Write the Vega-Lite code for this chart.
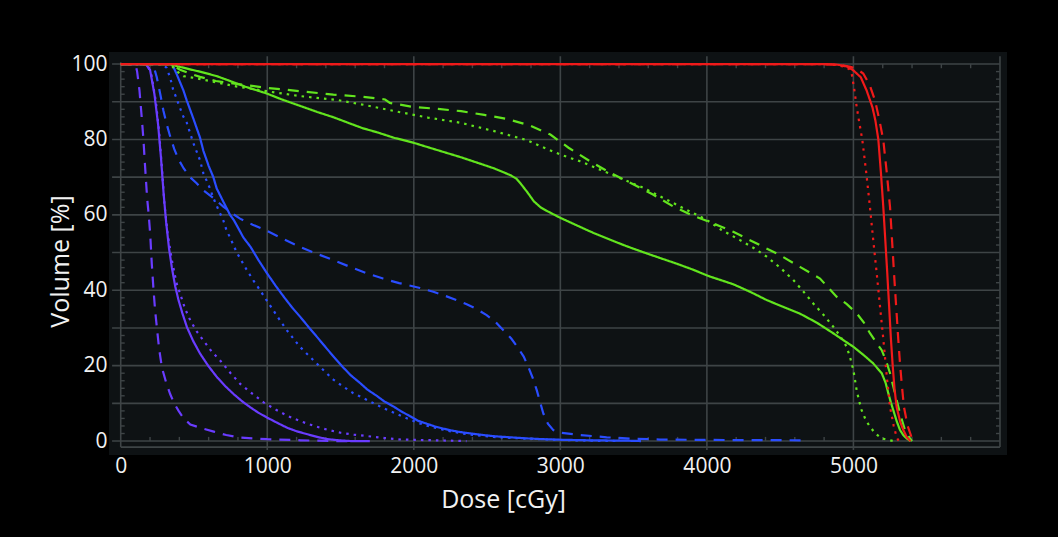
{
"$schema": "https://vega.github.io/schema/vega-lite/v6.json",
"width": 898, "height": 403,
"autosize": {"type": "none"},
"padding": {"left": 109, "top": 52, "right": 51, "bottom": 82},
"background": "#000000",
"config": {"view": {"fill": "#0e1214", "stroke": null}},
"resolve": {"axis": {"x": "independent", "y": "independent"}},
"datasets": {
"grid": [
{"x":-59,"x2":6000,"y":0,"y2":0},{"x":-59,"x2":6000,"y":10,"y2":10},{"x":-59,"x2":6000,"y":20,"y2":20},{"x":-59,"x2":6000,"y":30,"y2":30},{"x":-59,"x2":6000,"y":40,"y2":40},{"x":-59,"x2":6000,"y":50,"y2":50},{"x":-59,"x2":6000,"y":60,"y2":60},{"x":-59,"x2":6000,"y":70,"y2":70},{"x":-59,"x2":6000,"y":80,"y2":80},{"x":-59,"x2":6000,"y":90,"y2":90},{"x":-59,"x2":6000,"y":100,"y2":100},
{"x":1000,"x2":1000,"y":-2.4,"y2":102.1},{"x":2000,"x2":2000,"y":-2.4,"y2":102.1},{"x":3000,"x2":3000,"y":-2.4,"y2":102.1},{"x":4000,"x2":4000,"y":-2.4,"y2":102.1},{"x":5000,"x2":5000,"y":-2.4,"y2":102.1},
{"x":6000,"x2":6000,"y":-1.6,"y2":102.1},{"x":0,"x2":0,"y":-1.6,"y2":100.5},{"x":0,"x2":6000,"y":-1.6,"y2":-1.6}
],
"xt": [{"d":200},{"d":400},{"d":600},{"d":800},{"d":1200},{"d":1400},{"d":1600},{"d":1800},{"d":2200},{"d":2400},{"d":2600},{"d":2800},{"d":3200},{"d":3400},{"d":3600},{"d":3800},{"d":4200},{"d":4400},{"d":4600},{"d":4800},{"d":5200},{"d":5400},{"d":5600},{"d":5800}],
"yt": [{"v":2},{"v":4},{"v":6},{"v":8},{"v":12},{"v":14},{"v":16},{"v":18},{"v":22},{"v":24},{"v":26},{"v":28},{"v":32},{"v":34},{"v":36},{"v":38},{"v":42},{"v":44},{"v":46},{"v":48},{"v":52},{"v":54},{"v":56},{"v":58},{"v":62},{"v":64},{"v":66},{"v":68},{"v":72},{"v":74},{"v":76},{"v":78},{"v":82},{"v":84},{"v":86},{"v":88},{"v":92},{"v":94},{"v":96},{"v":98}],
"curves": [
{"g":"V","s":"solid","d":0,"v":100},{"g":"V","s":"solid","d":170,"v":100},{"g":"V","s":"solid","d":200,"v":98.5},{"g":"V","s":"solid","d":230,"v":92},{"g":"V","s":"solid","d":255,"v":84},{"g":"V","s":"solid","d":275,"v":75},{"g":"V","s":"solid","d":292,"v":66},{"g":"V","s":"solid","d":310,"v":58},{"g":"V","s":"solid","d":330,"v":51},{"g":"V","s":"solid","d":349,"v":46},{"g":"V","s":"solid","d":372,"v":41},{"g":"V","s":"solid","d":395,"v":37.3},{"g":"V","s":"solid","d":420,"v":34},{"g":"V","s":"solid","d":452,"v":30.2},{"g":"V","s":"solid","d":495,"v":26.5},{"g":"V","s":"solid","d":543,"v":23.1},{"g":"V","s":"solid","d":600,"v":19.8},{"g":"V","s":"solid","d":658,"v":16.9},{"g":"V","s":"solid","d":715,"v":14.5},{"g":"V","s":"solid","d":772,"v":12.4},{"g":"V","s":"solid","d":830,"v":10.5},{"g":"V","s":"solid","d":886,"v":8.9},{"g":"V","s":"solid","d":940,"v":7.5},{"g":"V","s":"solid","d":1000,"v":6.2},{"g":"V","s":"solid","d":1070,"v":4.8},{"g":"V","s":"solid","d":1137,"v":3.5},{"g":"V","s":"solid","d":1200,"v":2.6},{"g":"V","s":"solid","d":1274,"v":1.8},{"g":"V","s":"solid","d":1340,"v":1.1},{"g":"V","s":"solid","d":1411,"v":0.5},{"g":"V","s":"solid","d":1490,"v":0.2},{"g":"V","s":"solid","d":1571,"v":0},{"g":"V","s":"solid","d":1700,"v":0},
{"g":"V","s":"dashed","d":0,"v":100},{"g":"V","s":"dashed","d":100,"v":100},{"g":"V","s":"dashed","d":112,"v":98},{"g":"V","s":"dashed","d":128,"v":93},{"g":"V","s":"dashed","d":143,"v":86},{"g":"V","s":"dashed","d":155,"v":80},{"g":"V","s":"dashed","d":166,"v":73},{"g":"V","s":"dashed","d":180,"v":64.5},{"g":"V","s":"dashed","d":191,"v":60},{"g":"V","s":"dashed","d":201,"v":55},{"g":"V","s":"dashed","d":212,"v":47},{"g":"V","s":"dashed","d":224,"v":40},{"g":"V","s":"dashed","d":235,"v":34.5},{"g":"V","s":"dashed","d":247,"v":30},{"g":"V","s":"dashed","d":262,"v":24.5},{"g":"V","s":"dashed","d":281,"v":19.5},{"g":"V","s":"dashed","d":310,"v":15.5},{"g":"V","s":"dashed","d":338,"v":12.4},{"g":"V","s":"dashed","d":365,"v":10},{"g":"V","s":"dashed","d":395,"v":8},{"g":"V","s":"dashed","d":430,"v":6},{"g":"V","s":"dashed","d":475,"v":4.4},{"g":"V","s":"dashed","d":553,"v":3.4},{"g":"V","s":"dashed","d":635,"v":2.5},{"g":"V","s":"dashed","d":720,"v":1.6},{"g":"V","s":"dashed","d":817,"v":0.9},{"g":"V","s":"dashed","d":1000,"v":0.5},{"g":"V","s":"dashed","d":1228,"v":0.2},{"g":"V","s":"dashed","d":1457,"v":0},{"g":"V","s":"dashed","d":1550,"v":0},
{"g":"V","s":"dotted","d":0,"v":100},{"g":"V","s":"dotted","d":180,"v":100},{"g":"V","s":"dotted","d":210,"v":97},{"g":"V","s":"dotted","d":240,"v":90},{"g":"V","s":"dotted","d":262,"v":82},{"g":"V","s":"dotted","d":282,"v":72},{"g":"V","s":"dotted","d":298,"v":63},{"g":"V","s":"dotted","d":320,"v":55},{"g":"V","s":"dotted","d":349,"v":48},{"g":"V","s":"dotted","d":380,"v":42},{"g":"V","s":"dotted","d":406,"v":39},{"g":"V","s":"dotted","d":440,"v":35},{"g":"V","s":"dotted","d":475,"v":32},{"g":"V","s":"dotted","d":520,"v":29},{"g":"V","s":"dotted","d":566,"v":26.6},{"g":"V","s":"dotted","d":620,"v":23.8},{"g":"V","s":"dotted","d":680,"v":21.3},{"g":"V","s":"dotted","d":750,"v":18},{"g":"V","s":"dotted","d":817,"v":15.1},{"g":"V","s":"dotted","d":900,"v":12.5},{"g":"V","s":"dotted","d":977,"v":10.2},{"g":"V","s":"dotted","d":1060,"v":8.3},{"g":"V","s":"dotted","d":1137,"v":6.7},{"g":"V","s":"dotted","d":1230,"v":5.2},{"g":"V","s":"dotted","d":1320,"v":4},{"g":"V","s":"dotted","d":1410,"v":3},{"g":"V","s":"dotted","d":1502,"v":2.2},{"g":"V","s":"dotted","d":1590,"v":1.7},{"g":"V","s":"dotted","d":1685,"v":1.3},{"g":"V","s":"dotted","d":1800,"v":0.8},{"g":"V","s":"dotted","d":1913,"v":0.4},{"g":"V","s":"dotted","d":2142,"v":0.2},{"g":"V","s":"dotted","d":2360,"v":0},
{"g":"B","s":"solid","d":0,"v":100},{"g":"B","s":"solid","d":350,"v":100},{"g":"B","s":"solid","d":380,"v":97.5},{"g":"B","s":"solid","d":428,"v":93},{"g":"B","s":"solid","d":450,"v":90.4},{"g":"B","s":"solid","d":496,"v":85.5},{"g":"B","s":"solid","d":541,"v":80.5},{"g":"B","s":"solid","d":564,"v":77},{"g":"B","s":"solid","d":600,"v":73},{"g":"B","s":"solid","d":632,"v":70},{"g":"B","s":"solid","d":655,"v":67},{"g":"B","s":"solid","d":700,"v":63.5},{"g":"B","s":"solid","d":746,"v":60},{"g":"B","s":"solid","d":772,"v":58.6},{"g":"B","s":"solid","d":837,"v":54},{"g":"B","s":"solid","d":886,"v":51.5},{"g":"B","s":"solid","d":940,"v":48},{"g":"B","s":"solid","d":1000,"v":44.4},{"g":"B","s":"solid","d":1057,"v":41.2},{"g":"B","s":"solid","d":1114,"v":38.2},{"g":"B","s":"solid","d":1170,"v":35.4},{"g":"B","s":"solid","d":1228,"v":32.8},{"g":"B","s":"solid","d":1285,"v":30.1},{"g":"B","s":"solid","d":1342,"v":27.5},{"g":"B","s":"solid","d":1400,"v":24.8},{"g":"B","s":"solid","d":1457,"v":22.2},{"g":"B","s":"solid","d":1514,"v":19.7},{"g":"B","s":"solid","d":1571,"v":17.4},{"g":"B","s":"solid","d":1633,"v":15.4},{"g":"B","s":"solid","d":1685,"v":13.6},{"g":"B","s":"solid","d":1747,"v":12},{"g":"B","s":"solid","d":1799,"v":10.5},{"g":"B","s":"solid","d":1860,"v":9.2},{"g":"B","s":"solid","d":1913,"v":7.9},{"g":"B","s":"solid","d":1974,"v":6.6},{"g":"B","s":"solid","d":2027,"v":5.4},{"g":"B","s":"solid","d":2088,"v":4.6},{"g":"B","s":"solid","d":2142,"v":3.9},{"g":"B","s":"solid","d":2201,"v":3.3},{"g":"B","s":"solid","d":2258,"v":2.8},{"g":"B","s":"solid","d":2315,"v":2.4},{"g":"B","s":"solid","d":2430,"v":1.8},{"g":"B","s":"solid","d":2542,"v":1.3},{"g":"B","s":"solid","d":2656,"v":1},{"g":"B","s":"solid","d":2770,"v":0.7},{"g":"B","s":"solid","d":2884,"v":0.5},{"g":"B","s":"solid","d":2998,"v":0.35},{"g":"B","s":"solid","d":3200,"v":0.2},{"g":"B","s":"solid","d":3450,"v":0.1},{"g":"B","s":"solid","d":3550,"v":0},
{"g":"B","s":"dotted","d":0,"v":100},{"g":"B","s":"dotted","d":280,"v":100},{"g":"B","s":"dotted","d":314,"v":99},{"g":"B","s":"dotted","d":340,"v":96},{"g":"B","s":"dotted","d":359,"v":93},{"g":"B","s":"dotted","d":380,"v":91},{"g":"B","s":"dotted","d":400,"v":88.8},{"g":"B","s":"dotted","d":428,"v":86},{"g":"B","s":"dotted","d":450,"v":84.5},{"g":"B","s":"dotted","d":496,"v":79},{"g":"B","s":"dotted","d":541,"v":74.5},{"g":"B","s":"dotted","d":564,"v":71},{"g":"B","s":"dotted","d":587,"v":69},{"g":"B","s":"dotted","d":609,"v":67},{"g":"B","s":"dotted","d":632,"v":64.5},{"g":"B","s":"dotted","d":665,"v":61.5},{"g":"B","s":"dotted","d":700,"v":58.5},{"g":"B","s":"dotted","d":723,"v":55.8},{"g":"B","s":"dotted","d":746,"v":54},{"g":"B","s":"dotted","d":792,"v":50},{"g":"B","s":"dotted","d":860,"v":45.4},{"g":"B","s":"dotted","d":905,"v":42.6},{"g":"B","s":"dotted","d":951,"v":40},{"g":"B","s":"dotted","d":996,"v":37.3},{"g":"B","s":"dotted","d":1041,"v":34.7},{"g":"B","s":"dotted","d":1087,"v":32},{"g":"B","s":"dotted","d":1133,"v":29.4},{"g":"B","s":"dotted","d":1178,"v":27.2},{"g":"B","s":"dotted","d":1223,"v":25},{"g":"B","s":"dotted","d":1280,"v":22.8},{"g":"B","s":"dotted","d":1337,"v":20.6},{"g":"B","s":"dotted","d":1394,"v":18.4},{"g":"B","s":"dotted","d":1451,"v":16.3},{"g":"B","s":"dotted","d":1520,"v":14.4},{"g":"B","s":"dotted","d":1587,"v":12.7},{"g":"B","s":"dotted","d":1660,"v":11.3},{"g":"B","s":"dotted","d":1747,"v":9.6},{"g":"B","s":"dotted","d":1800,"v":8.6},{"g":"B","s":"dotted","d":1860,"v":7.6},{"g":"B","s":"dotted","d":1917,"v":6.6},{"g":"B","s":"dotted","d":1974,"v":5.7},{"g":"B","s":"dotted","d":2030,"v":4.8},{"g":"B","s":"dotted","d":2088,"v":4.1},{"g":"B","s":"dotted","d":2200,"v":3},{"g":"B","s":"dotted","d":2315,"v":2.1},{"g":"B","s":"dotted","d":2430,"v":1.5},{"g":"B","s":"dotted","d":2542,"v":1.1},{"g":"B","s":"dotted","d":2656,"v":0.85},{"g":"B","s":"dotted","d":2770,"v":0.65},{"g":"B","s":"dotted","d":2884,"v":0.45},{"g":"B","s":"dotted","d":2998,"v":0.3},{"g":"B","s":"dotted","d":3200,"v":0.1},{"g":"B","s":"dotted","d":3400,"v":0},
{"g":"B","s":"dashed","d":0,"v":100},{"g":"B","s":"dashed","d":200,"v":100},{"g":"B","s":"dashed","d":225,"v":99.4},{"g":"B","s":"dashed","d":246,"v":96.5},{"g":"B","s":"dashed","d":270,"v":92},{"g":"B","s":"dashed","d":291,"v":87.7},{"g":"B","s":"dashed","d":314,"v":84},{"g":"B","s":"dashed","d":336,"v":81},{"g":"B","s":"dashed","d":365,"v":77.5},{"g":"B","s":"dashed","d":393,"v":74.8},{"g":"B","s":"dashed","d":430,"v":72.3},{"g":"B","s":"dashed","d":473,"v":70},{"g":"B","s":"dashed","d":518,"v":68.4},{"g":"B","s":"dashed","d":564,"v":66.5},{"g":"B","s":"dashed","d":632,"v":64.5},{"g":"B","s":"dashed","d":700,"v":62.2},{"g":"B","s":"dashed","d":768,"v":60.2},{"g":"B","s":"dashed","d":814,"v":59},{"g":"B","s":"dashed","d":900,"v":57.4},{"g":"B","s":"dashed","d":996,"v":55.8},{"g":"B","s":"dashed","d":1110,"v":53.6},{"g":"B","s":"dashed","d":1223,"v":51.5},{"g":"B","s":"dashed","d":1337,"v":49.7},{"g":"B","s":"dashed","d":1451,"v":48},{"g":"B","s":"dashed","d":1565,"v":46.2},{"g":"B","s":"dashed","d":1679,"v":44.5},{"g":"B","s":"dashed","d":1790,"v":43.1},{"g":"B","s":"dashed","d":1900,"v":41.9},{"g":"B","s":"dashed","d":2042,"v":40.6},{"g":"B","s":"dashed","d":2133,"v":39.6},{"g":"B","s":"dashed","d":2201,"v":38.7},{"g":"B","s":"dashed","d":2292,"v":37.4},{"g":"B","s":"dashed","d":2361,"v":36.3},{"g":"B","s":"dashed","d":2430,"v":35},{"g":"B","s":"dashed","d":2497,"v":33.4},{"g":"B","s":"dashed","d":2555,"v":31.7},{"g":"B","s":"dashed","d":2611,"v":29.4},{"g":"B","s":"dashed","d":2665,"v":27.2},{"g":"B","s":"dashed","d":2713,"v":24.6},{"g":"B","s":"dashed","d":2750,"v":22.4},{"g":"B","s":"dashed","d":2781,"v":19.7},{"g":"B","s":"dashed","d":2812,"v":16.7},{"g":"B","s":"dashed","d":2839,"v":13.5},{"g":"B","s":"dashed","d":2862,"v":10.3},{"g":"B","s":"dashed","d":2884,"v":7.3},{"g":"B","s":"dashed","d":2915,"v":4.6},{"g":"B","s":"dashed","d":2952,"v":2.9},{"g":"B","s":"dashed","d":2998,"v":2.2},{"g":"B","s":"dashed","d":3134,"v":1.6},{"g":"B","s":"dashed","d":3316,"v":1},{"g":"B","s":"dashed","d":3500,"v":0.6},{"g":"B","s":"dashed","d":3680,"v":0.4},{"g":"B","s":"dashed","d":4000,"v":0.3},{"g":"B","s":"dashed","d":4300,"v":0.25},{"g":"B","s":"dashed","d":4655,"v":0.2},
{"g":"G","s":"solid","d":0,"v":100},{"g":"G","s":"solid","d":330,"v":100},{"g":"G","s":"solid","d":400,"v":99.3},{"g":"G","s":"solid","d":473,"v":98.6},{"g":"G","s":"solid","d":560,"v":97.8},{"g":"G","s":"solid","d":655,"v":96.8},{"g":"G","s":"solid","d":768,"v":95.2},{"g":"G","s":"solid","d":850,"v":94},{"g":"G","s":"solid","d":996,"v":92.2},{"g":"G","s":"solid","d":1100,"v":90.6},{"g":"G","s":"solid","d":1224,"v":88.9},{"g":"G","s":"solid","d":1340,"v":87.3},{"g":"G","s":"solid","d":1451,"v":85.9},{"g":"G","s":"solid","d":1560,"v":84.3},{"g":"G","s":"solid","d":1650,"v":83},{"g":"G","s":"solid","d":1758,"v":81.8},{"g":"G","s":"solid","d":1860,"v":80.5},{"g":"G","s":"solid","d":2000,"v":79.1},{"g":"G","s":"solid","d":2100,"v":77.9},{"g":"G","s":"solid","d":2210,"v":76.6},{"g":"G","s":"solid","d":2320,"v":75.3},{"g":"G","s":"solid","d":2436,"v":73.8},{"g":"G","s":"solid","d":2550,"v":72.3},{"g":"G","s":"solid","d":2661,"v":70.5},{"g":"G","s":"solid","d":2700,"v":69.6},{"g":"G","s":"solid","d":2729,"v":68.3},{"g":"G","s":"solid","d":2775,"v":66},{"g":"G","s":"solid","d":2819,"v":63.6},{"g":"G","s":"solid","d":2865,"v":62},{"g":"G","s":"solid","d":2910,"v":61},{"g":"G","s":"solid","d":3000,"v":59.2},{"g":"G","s":"solid","d":3113,"v":57.2},{"g":"G","s":"solid","d":3226,"v":55.2},{"g":"G","s":"solid","d":3340,"v":53.4},{"g":"G","s":"solid","d":3451,"v":51.7},{"g":"G","s":"solid","d":3565,"v":50.1},{"g":"G","s":"solid","d":3677,"v":48.6},{"g":"G","s":"solid","d":3790,"v":47.1},{"g":"G","s":"solid","d":3903,"v":45.5},{"g":"G","s":"solid","d":4016,"v":43.7},{"g":"G","s":"solid","d":4180,"v":41.6},{"g":"G","s":"solid","d":4300,"v":39.5},{"g":"G","s":"solid","d":4408,"v":37.4},{"g":"G","s":"solid","d":4520,"v":35.6},{"g":"G","s":"solid","d":4635,"v":33.8},{"g":"G","s":"solid","d":4750,"v":31.4},{"g":"G","s":"solid","d":4862,"v":28.6},{"g":"G","s":"solid","d":4930,"v":26.8},{"g":"G","s":"solid","d":5000,"v":25},{"g":"G","s":"solid","d":5070,"v":22.8},{"g":"G","s":"solid","d":5135,"v":20.6},{"g":"G","s":"solid","d":5193,"v":18},{"g":"G","s":"solid","d":5220,"v":15.4},{"g":"G","s":"solid","d":5238,"v":12.7},{"g":"G","s":"solid","d":5255,"v":10.3},{"g":"G","s":"solid","d":5272,"v":8.2},{"g":"G","s":"solid","d":5295,"v":5.3},{"g":"G","s":"solid","d":5318,"v":2.9},{"g":"G","s":"solid","d":5340,"v":1.6},{"g":"G","s":"solid","d":5363,"v":0.7},{"g":"G","s":"solid","d":5390,"v":0},
{"g":"G","s":"dashed","d":0,"v":100},{"g":"G","s":"dashed","d":340,"v":100},{"g":"G","s":"dashed","d":405,"v":98.5},{"g":"G","s":"dashed","d":470,"v":97.5},{"g":"G","s":"dashed","d":541,"v":96.6},{"g":"G","s":"dashed","d":650,"v":95.5},{"g":"G","s":"dashed","d":814,"v":94.6},{"g":"G","s":"dashed","d":996,"v":93.7},{"g":"G","s":"dashed","d":1224,"v":92.8},{"g":"G","s":"dashed","d":1451,"v":91.9},{"g":"G","s":"dashed","d":1656,"v":91.3},{"g":"G","s":"dashed","d":1804,"v":90.6},{"g":"G","s":"dashed","d":1837,"v":89.7},{"g":"G","s":"dashed","d":1984,"v":88.7},{"g":"G","s":"dashed","d":2165,"v":88.1},{"g":"G","s":"dashed","d":2323,"v":87.5},{"g":"G","s":"dashed","d":2481,"v":86.5},{"g":"G","s":"dashed","d":2628,"v":85.5},{"g":"G","s":"dashed","d":2786,"v":83.8},{"g":"G","s":"dashed","d":2932,"v":81.3},{"g":"G","s":"dashed","d":3056,"v":77.8},{"g":"G","s":"dashed","d":3203,"v":74.2},{"g":"G","s":"dashed","d":3339,"v":71.2},{"g":"G","s":"dashed","d":3497,"v":68.1},{"g":"G","s":"dashed","d":3632,"v":65.4},{"g":"G","s":"dashed","d":3767,"v":62.3},{"g":"G","s":"dashed","d":3903,"v":59.8},{"g":"G","s":"dashed","d":3993,"v":58.5},{"g":"G","s":"dashed","d":4090,"v":57},{"g":"G","s":"dashed","d":4180,"v":55.5},{"g":"G","s":"dashed","d":4340,"v":52.4},{"g":"G","s":"dashed","d":4499,"v":49.3},{"g":"G","s":"dashed","d":4635,"v":46.2},{"g":"G","s":"dashed","d":4772,"v":43.1},{"g":"G","s":"dashed","d":4885,"v":38.3},{"g":"G","s":"dashed","d":4955,"v":36.3},{"g":"G","s":"dashed","d":5022,"v":33.9},{"g":"G","s":"dashed","d":5070,"v":31.5},{"g":"G","s":"dashed","d":5113,"v":28.6},{"g":"G","s":"dashed","d":5155,"v":26.2},{"g":"G","s":"dashed","d":5193,"v":24.1},{"g":"G","s":"dashed","d":5225,"v":21},{"g":"G","s":"dashed","d":5250,"v":18},{"g":"G","s":"dashed","d":5283,"v":12.7},{"g":"G","s":"dashed","d":5318,"v":7.3},{"g":"G","s":"dashed","d":5352,"v":2.9},{"g":"G","s":"dashed","d":5386,"v":0.7},{"g":"G","s":"dashed","d":5400,"v":0},
{"g":"G","s":"dotted","d":0,"v":100},{"g":"G","s":"dotted","d":340,"v":100},{"g":"G","s":"dotted","d":370,"v":98.5},{"g":"G","s":"dotted","d":428,"v":96.8},{"g":"G","s":"dotted","d":520,"v":96.2},{"g":"G","s":"dotted","d":610,"v":95.5},{"g":"G","s":"dotted","d":769,"v":94.2},{"g":"G","s":"dotted","d":996,"v":92.8},{"g":"G","s":"dotted","d":1224,"v":91.5},{"g":"G","s":"dotted","d":1474,"v":90.5},{"g":"G","s":"dotted","d":1656,"v":89.2},{"g":"G","s":"dotted","d":1871,"v":87.5},{"g":"G","s":"dotted","d":2097,"v":85.8},{"g":"G","s":"dotted","d":2323,"v":84.4},{"g":"G","s":"dotted","d":2549,"v":82.2},{"g":"G","s":"dotted","d":2774,"v":79.8},{"g":"G","s":"dotted","d":2865,"v":78.2},{"g":"G","s":"dotted","d":3000,"v":76},{"g":"G","s":"dotted","d":3135,"v":74.2},{"g":"G","s":"dotted","d":3271,"v":72},{"g":"G","s":"dotted","d":3429,"v":69.4},{"g":"G","s":"dotted","d":3564,"v":67.2},{"g":"G","s":"dotted","d":3722,"v":64.1},{"g":"G","s":"dotted","d":3858,"v":61.4},{"g":"G","s":"dotted","d":3993,"v":58.8},{"g":"G","s":"dotted","d":4100,"v":56},{"g":"G","s":"dotted","d":4226,"v":53.3},{"g":"G","s":"dotted","d":4320,"v":51.2},{"g":"G","s":"dotted","d":4408,"v":48.9},{"g":"G","s":"dotted","d":4500,"v":46},{"g":"G","s":"dotted","d":4590,"v":42.7},{"g":"G","s":"dotted","d":4660,"v":39.6},{"g":"G","s":"dotted","d":4726,"v":36.5},{"g":"G","s":"dotted","d":4800,"v":33.3},{"g":"G","s":"dotted","d":4863,"v":30.3},{"g":"G","s":"dotted","d":4910,"v":27.8},{"g":"G","s":"dotted","d":4954,"v":25},{"g":"G","s":"dotted","d":4980,"v":21.8},{"g":"G","s":"dotted","d":5000,"v":18.8},{"g":"G","s":"dotted","d":5022,"v":13.5},{"g":"G","s":"dotted","d":5040,"v":10.5},{"g":"G","s":"dotted","d":5056,"v":8.2},{"g":"G","s":"dotted","d":5085,"v":5.5},{"g":"G","s":"dotted","d":5113,"v":3.8},{"g":"G","s":"dotted","d":5150,"v":2},{"g":"G","s":"dotted","d":5193,"v":0.7},{"g":"G","s":"dotted","d":5272,"v":0},
{"g":"R","s":"dotted","d":0,"v":100},{"g":"R","s":"dotted","d":4800,"v":100},{"g":"R","s":"dotted","d":4880,"v":99.8},{"g":"R","s":"dotted","d":4940,"v":99.3},{"g":"R","s":"dotted","d":4970,"v":98.7},{"g":"R","s":"dotted","d":4988,"v":97.5},{"g":"R","s":"dotted","d":5005,"v":93.5},{"g":"R","s":"dotted","d":5022,"v":88.7},{"g":"R","s":"dotted","d":5040,"v":84.5},{"g":"R","s":"dotted","d":5061,"v":79.8},{"g":"R","s":"dotted","d":5088,"v":71},{"g":"R","s":"dotted","d":5113,"v":62},{"g":"R","s":"dotted","d":5136,"v":53},{"g":"R","s":"dotted","d":5159,"v":44.5},{"g":"R","s":"dotted","d":5182,"v":35.5},{"g":"R","s":"dotted","d":5204,"v":27},{"g":"R","s":"dotted","d":5228,"v":17},{"g":"R","s":"dotted","d":5250,"v":9},{"g":"R","s":"dotted","d":5275,"v":4},{"g":"R","s":"dotted","d":5295,"v":1},{"g":"R","s":"dotted","d":5310,"v":0},
{"g":"R","s":"dashed","d":0,"v":100},{"g":"R","s":"dashed","d":4800,"v":100},{"g":"R","s":"dashed","d":4900,"v":99.8},{"g":"R","s":"dashed","d":4980,"v":99.3},{"g":"R","s":"dashed","d":5030,"v":98.5},{"g":"R","s":"dashed","d":5067,"v":97.5},{"g":"R","s":"dashed","d":5110,"v":94.5},{"g":"R","s":"dashed","d":5147,"v":90.4},{"g":"R","s":"dashed","d":5178,"v":85},{"g":"R","s":"dashed","d":5204,"v":79.8},{"g":"R","s":"dashed","d":5228,"v":71},{"g":"R","s":"dashed","d":5250,"v":62},{"g":"R","s":"dashed","d":5264,"v":53},{"g":"R","s":"dashed","d":5277,"v":44.5},{"g":"R","s":"dashed","d":5292,"v":35.5},{"g":"R","s":"dashed","d":5306,"v":27},{"g":"R","s":"dashed","d":5318,"v":20.5},{"g":"R","s":"dashed","d":5330,"v":15},{"g":"R","s":"dashed","d":5345,"v":9},{"g":"R","s":"dashed","d":5370,"v":4},{"g":"R","s":"dashed","d":5397,"v":1},{"g":"R","s":"dashed","d":5410,"v":0},
{"g":"R","s":"solid","d":0,"v":100},{"g":"R","s":"solid","d":4800,"v":100},{"g":"R","s":"solid","d":4900,"v":99.8},{"g":"R","s":"solid","d":4960,"v":99.3},{"g":"R","s":"solid","d":5000,"v":98.3},{"g":"R","s":"solid","d":5050,"v":96.5},{"g":"R","s":"solid","d":5090,"v":93},{"g":"R","s":"solid","d":5130,"v":88.5},{"g":"R","s":"solid","d":5150,"v":85},{"g":"R","s":"solid","d":5170,"v":80},{"g":"R","s":"solid","d":5188,"v":71},{"g":"R","s":"solid","d":5204,"v":62},{"g":"R","s":"solid","d":5218,"v":53},{"g":"R","s":"solid","d":5231,"v":44.5},{"g":"R","s":"solid","d":5244,"v":35.5},{"g":"R","s":"solid","d":5256,"v":27},{"g":"R","s":"solid","d":5268,"v":20},{"g":"R","s":"solid","d":5280,"v":14},{"g":"R","s":"solid","d":5295,"v":9},{"g":"R","s":"solid","d":5320,"v":5},{"g":"R","s":"solid","d":5340,"v":3},{"g":"R","s":"solid","d":5363,"v":1.1},{"g":"R","s":"solid","d":5390,"v":0}
]
},
"layer": [
{
"data": {"name": "grid"},
"mark": {"type": "rule", "color": "#3e4446", "strokeWidth": 1.6},
"encoding": {
"x": {"field": "x", "type": "quantitative", "scale": {"domain": [-80, 6048], "nice": false, "zero": false},
"axis": {"values": [0, 1000, 2000, 3000, 4000, 5000], "format": "d", "domain": false, "ticks": false, "grid": false, "labelFlush": false, "labelOverlap": false, "labelBound": false,
"labelColor": "#f2f2f2", "labelFont": "Open Sans", "labelFontSize": 21, "labelPadding": 0,
"title": "Dose [cGy]", "titleColor": "#f2f2f2", "titleFont": "Open Sans", "titleFontSize": 25, "titleFontWeight": "normal",
"titleX": 394, "titleY": 52, "titleAlign": "center", "titleBaseline": "alphabetic"}},
"x2": {"field": "x2"},
"y": {"field": "y", "type": "quantitative", "scale": {"domain": [-3.7, 103.2], "nice": false, "zero": false},
"axis": {"values": [0, 20, 40, 60, 80, 100], "format": "d", "domain": false, "ticks": false, "grid": false, "labelFlush": false, "labelOverlap": false, "labelBound": false,
"labelColor": "#f2f2f2", "labelFont": "Open Sans", "labelFontSize": 21, "labelPadding": 2,
"title": "Volume [%]", "titleColor": "#f2f2f2", "titleFont": "Open Sans", "titleFontSize": 25, "titleFontWeight": "normal",
"titleX": -41, "titleY": 209, "titleAngle": 270, "titleAlign": "center", "titleBaseline": "alphabetic"}},
"y2": {"field": "y2"}
}
},
{
"data": {"name": "xt"},
"mark": {"type": "rule", "color": "#3e4446", "strokeWidth": 1.4},
"encoding": {
"x": {"field": "d", "type": "quantitative", "scale": {"domain": [-80, 6048], "nice": false, "zero": false}, "axis": null},
"y": {"datum": 0, "type": "quantitative", "scale": {"domain": [-3.7, 103.2], "nice": false, "zero": false}, "axis": null},
"y2": {"datum": 1.1}
}
},
{
"data": {"name": "xt"},
"mark": {"type": "rule", "color": "#3e4446", "strokeWidth": 1.4},
"encoding": {
"x": {"field": "d", "type": "quantitative", "scale": {"domain": [-80, 6048], "nice": false, "zero": false}, "axis": null},
"y": {"datum": 100, "type": "quantitative", "scale": {"domain": [-3.7, 103.2], "nice": false, "zero": false}, "axis": null},
"y2": {"datum": 98.9}
}
},
{
"data": {"name": "yt"},
"mark": {"type": "rule", "color": "#3e4446", "strokeWidth": 1.4},
"encoding": {
"y": {"field": "v", "type": "quantitative", "scale": {"domain": [-3.7, 103.2], "nice": false, "zero": false}, "axis": null},
"x": {"datum": 0, "type": "quantitative", "scale": {"domain": [-80, 6048], "nice": false, "zero": false}, "axis": null},
"x2": {"datum": 27}
}
},
{
"data": {"name": "yt"},
"mark": {"type": "rule", "color": "#3e4446", "strokeWidth": 1.4},
"encoding": {
"y": {"field": "v", "type": "quantitative", "scale": {"domain": [-3.7, 103.2], "nice": false, "zero": false}, "axis": null},
"x": {"datum": 6000, "type": "quantitative", "scale": {"domain": [-80, 6048], "nice": false, "zero": false}, "axis": null},
"x2": {"datum": 5973}
}
},
{
"data": {"name": "curves"},
"mark": {"type": "line", "strokeWidth": 2.2, "strokeCap": "butt"},
"encoding": {
"x": {"field": "d", "type": "quantitative", "scale": {"domain": [-80, 6048], "nice": false, "zero": false}, "axis": null},
"y": {"field": "v", "type": "quantitative", "scale": {"domain": [-3.7, 103.2], "nice": false, "zero": false}, "axis": null},
"color": {"field": "g", "type": "nominal", "scale": {"domain": ["V", "B", "G", "R"], "range": ["#6a3cff", "#2a4dff", "#62e41e", "#f01a1a"]}, "legend": null},
"strokeDash": {"field": "s", "type": "nominal", "scale": {"domain": ["solid", "dashed", "dotted"], "range": [[1, 0], [11, 8], [2.5, 5]]}, "legend": null},
"order": {"field": "d", "type": "quantitative"}
}
}
]
}
